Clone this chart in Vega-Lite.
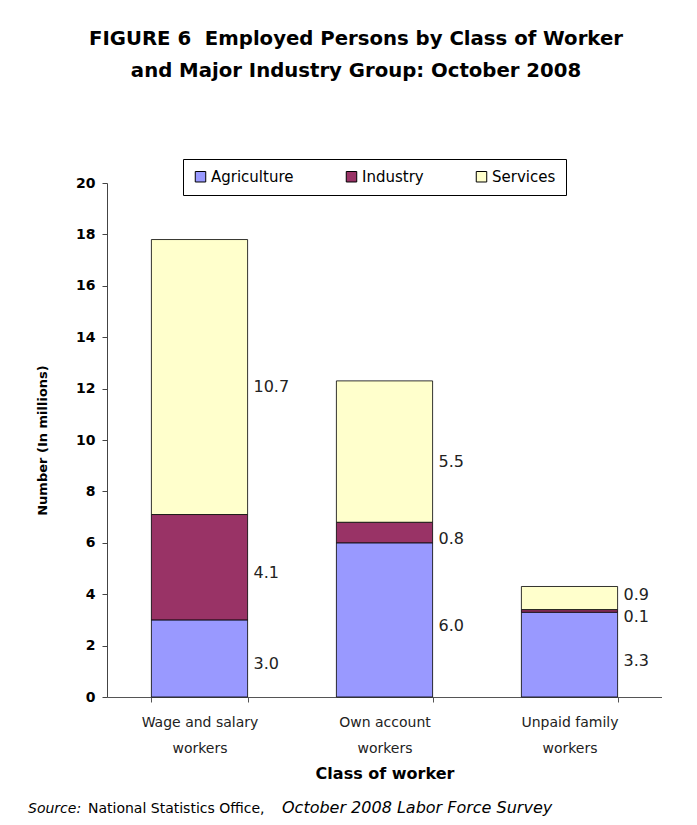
{
  "$schema": "https://vega.github.io/schema/vega-lite/v6.json",
  "background": "white",
  "padding": {"left": 28, "top": 28, "right": 0, "bottom": 0},
  "config": {
    "view": {"stroke": null},
    "font": "DejaVu Sans"
  },
  "title": {
    "text": ["FIGURE 6\u00a0\u00a0Employed Persons by Class of Worker", "and Major Industry Group: October 2008"],
    "font": "DejaVu Sans",
    "fontSize": 19.7,
    "fontWeight": "bold",
    "lineHeight": 32,
    "color": "#000000",
    "anchor": "middle",
    "dx": 11,
    "offset": 78
  },
  "spacing": 19,
  "vconcat": [
    {
      "width": 555,
      "height": 514,
      "data": {
        "values": [
          {"cls": "Wage and salary workers", "sector": "Agriculture", "value": 3.0, "rank": 1},
          {"cls": "Wage and salary workers", "sector": "Industry", "value": 4.1, "rank": 2},
          {"cls": "Wage and salary workers", "sector": "Services", "value": 10.7, "rank": 3},
          {"cls": "Own account workers", "sector": "Agriculture", "value": 6.0, "rank": 1},
          {"cls": "Own account workers", "sector": "Industry", "value": 0.8, "rank": 2},
          {"cls": "Own account workers", "sector": "Services", "value": 5.5, "rank": 3},
          {"cls": "Unpaid family workers", "sector": "Agriculture", "value": 3.3, "rank": 1},
          {"cls": "Unpaid family workers", "sector": "Industry", "value": 0.1, "rank": 2},
          {"cls": "Unpaid family workers", "sector": "Services", "value": 0.9, "rank": 3}
        ]
      },
      "encoding": {
        "x": {
          "field": "cls",
          "type": "nominal",
          "sort": null,
          "scale": {"paddingInner": 0.48, "paddingOuter": 0.24},
          "axis": {
            "labelAngle": 0,
            "tickBand": "extent",
            "tickSize": 5,
            "tickColor": "#555555",
            "domainColor": "#555555",
            "labelExpr": "length(datum.label) > 0 ? [replace(datum.label, ' workers', ''), 'workers'] : ''",
            "labelFontSize": 14,
            "labelLineHeight": 26,
            "labelPadding": 13,
            "labelColor": "#222222",
            "title": "Class of worker",
            "titleFontSize": 16,
            "titleFontWeight": "bold",
            "titleColor": "#000000",
            "titlePadding": 10
          }
        }
      },
      "layer": [
        {
          "mark": {"type": "bar", "stroke": "#000000", "strokeWidth": 1, "strokeOpacity": 0.8},
          "encoding": {
            "y": {
              "field": "value",
              "type": "quantitative",
              "stack": "zero",
              "scale": {"domain": [0, 20], "nice": false},
              "axis": {
                "values": [0, 2, 4, 6, 8, 10, 12, 14, 16, 18, 20],
                "grid": false,
                "tickSize": 5,
                "tickColor": "#444444",
                "domainColor": "#444444",
                "labelFontSize": 14,
                "labelFontWeight": "bold",
                "labelColor": "#000000",
                "labelPadding": 7,
                "title": "Number (In millions)",
                "titleFontSize": 13,
                "titleFontWeight": "bold",
                "titleColor": "#000000",
                "titlePadding": 26
              }
            },
            "color": {
              "field": "sector",
              "type": "nominal",
              "scale": {
                "domain": ["Agriculture", "Industry", "Services"],
                "range": ["#9999FF", "#993366", "#FFFFCC"]
              },
              "legend": {
                "title": null,
                "orient": "none",
                "direction": "horizontal",
                "legendX": 76,
                "legendY": -24,
                "padding": 10,
                "strokeColor": "#000000",
                "fillColor": "#FFFFFF",
                "symbolType": "square",
                "symbolSize": 110,
                "symbolStrokeColor": "#000000",
                "symbolStrokeWidth": 1,
                "symbolOpacity": 1,
                "labelFontSize": 15,
                "labelColor": "#000000",
                "labelOffset": 3,
                "columnPadding": 50
              }
            },
            "order": {"field": "rank", "type": "quantitative"}
          }
        },
        {
          "transform": [
            {"stack": "value", "groupby": ["cls"], "sort": [{"field": "rank"}], "as": ["v0", "v1"]},
            {"calculate": "(datum.v0 + datum.v1) / 2", "as": "mid"},
            {"filter": "datum.rank < 3"}
          ],
          "mark": {"type": "text", "align": "left", "baseline": "middle", "dx": 54, "dy": 6, "fontSize": 16, "color": "#222222"},
          "encoding": {
            "y": {"field": "mid", "type": "quantitative"},
            "text": {"field": "value", "type": "quantitative", "format": ".1f"}
          }
        },
        {
          "transform": [
            {"stack": "value", "groupby": ["cls"], "sort": [{"field": "rank"}], "as": ["v0", "v1"]},
            {"calculate": "(datum.v0 + datum.v1) / 2", "as": "mid"},
            {"filter": "datum.rank == 3 && datum.value >= 1"}
          ],
          "mark": {"type": "text", "align": "left", "baseline": "middle", "dx": 54, "dy": 10, "fontSize": 16, "color": "#222222"},
          "encoding": {
            "y": {"field": "mid", "type": "quantitative"},
            "text": {"field": "value", "type": "quantitative", "format": ".1f"}
          }
        },
        {
          "transform": [
            {"stack": "value", "groupby": ["cls"], "sort": [{"field": "rank"}], "as": ["v0", "v1"]},
            {"calculate": "(datum.v0 + datum.v1) / 2", "as": "mid"},
            {"filter": "datum.rank == 3 && datum.value < 1"}
          ],
          "mark": {"type": "text", "align": "left", "baseline": "middle", "dx": 54, "dy": -3, "fontSize": 16, "color": "#222222"},
          "encoding": {
            "y": {"field": "mid", "type": "quantitative"},
            "text": {"field": "value", "type": "quantitative", "format": ".1f"}
          }
        }
      ]
    },
    {
      "bounds": "flush",
      "spacing": 0,
      "hconcat": [
        {
          "width": 1, "height": 1,
          "data": {"values": []},
          "mark": "point",
          "title": {"text": "Source:", "orient": "top", "anchor": "start", "dx": -79, "fontSize": 14, "fontWeight": "normal", "fontStyle": "italic", "color": "#000000"}
        },
        {
          "width": 1, "height": 1,
          "data": {"values": []},
          "mark": "point",
          "title": {"text": "National Statistics Office,", "orient": "top", "anchor": "start", "dx": -20, "fontSize": 14, "fontWeight": "normal", "color": "#000000"}
        },
        {
          "width": 1, "height": 1,
          "data": {"values": []},
          "mark": "point",
          "title": {"text": "October 2008 Labor Force Survey", "orient": "top", "anchor": "start", "dx": 173, "fontSize": 16, "fontWeight": "normal", "fontStyle": "italic", "color": "#000000"}
        }
      ]
    }
  ]
}
